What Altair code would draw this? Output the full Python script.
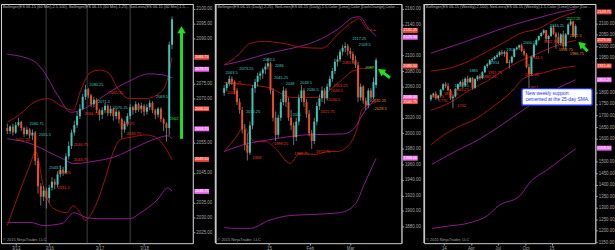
import altair as alt
import pandas as pd

# ---------------- colours
UP = "#38c6bd"
DOWN = "#f04a20"
WICK = "#8f8f8f"
RED = "#a31212"
PURP = "#8e1d8e"
TEAL_T = "#3cc9c0"
RED_T = "#e8391c"
ORANGE_T = "#e08a1c"
LIME = "#1de21d"
AXC = "#a6a6a6"
BOX_RED = "#f2473c"
BOX_PINK = "#ee6ef0"
H = 243

# ================= Panel 1 : ES 06-15 (60 Min)
p1_open = [2060.0, 2059.0, 2060.5, 2058.5, 2061.0, 2062.0, 2060.0, 2058.0, 2059.5, 2057.5, 2058.5, 2049.0, 2040.5, 2037.0, 2039.0, 2036.5, 2040.0, 2042.0, 2041.0, 2044.5, 2046.0, 2045.0, 2050.5, 2054.0, 2058.5, 2061.0, 2064.0, 2066.5, 2070.5, 2073.0, 2071.0, 2068.0, 2069.5, 2066.0, 2064.5, 2066.0, 2067.5, 2065.0, 2066.5, 2064.0, 2065.5, 2063.0, 2059.5, 2061.5, 2064.0, 2067.0, 2066.0, 2068.0, 2066.5, 2067.5, 2065.5, 2067.0, 2068.5, 2066.0, 2064.5, 2066.5, 2063.0, 2061.5, 2060.0, 2088.0]
p1_high = [2061.5, 2061.0, 2061.5, 2062.0, 2063.5, 2062.5, 2060.5, 2060.5, 2060.0, 2059.5, 2059.0, 2050.0, 2041.5, 2040.5, 2040.0, 2041.0, 2043.5, 2043.0, 2045.5, 2047.5, 2047.0, 2051.5, 2055.5, 2059.5, 2062.5, 2065.5, 2068.0, 2071.5, 2074.5, 2073.5, 2071.5, 2070.5, 2070.0, 2066.5, 2067.0, 2068.5, 2068.0, 2067.5, 2067.0, 2066.5, 2066.0, 2063.5, 2062.5, 2065.0, 2068.0, 2067.5, 2069.0, 2068.5, 2068.5, 2068.0, 2068.0, 2069.5, 2069.0, 2066.5, 2067.0, 2067.0, 2063.5, 2062.0, 2089.0, 2097.5]
p1_low = [2058.0, 2058.0, 2057.5, 2058.0, 2060.5, 2059.0, 2057.0, 2057.5, 2056.5, 2056.0, 2047.5, 2038.0, 2034.0, 2035.5, 2033.0, 2035.0, 2039.0, 2039.5, 2040.0, 2043.5, 2044.0, 2044.5, 2049.5, 2053.0, 2057.5, 2060.0, 2063.0, 2066.0, 2069.5, 2070.0, 2067.0, 2067.0, 2065.0, 2062.5, 2063.0, 2065.0, 2064.0, 2064.0, 2062.5, 2063.0, 2061.5, 2056.5, 2058.5, 2060.5, 2063.0, 2064.5, 2065.0, 2065.5, 2065.0, 2064.0, 2064.5, 2066.0, 2065.0, 2063.0, 2063.5, 2062.0, 2059.0, 2055.5, 2057.5, 2086.5]
p1_close = [2059.0, 2060.5, 2058.5, 2061.0, 2062.0, 2060.0, 2058.0, 2059.5, 2057.5, 2058.5, 2049.0, 2040.5, 2037.0, 2039.0, 2036.5, 2040.0, 2042.0, 2041.0, 2044.5, 2046.0, 2045.0, 2050.5, 2054.0, 2058.5, 2061.0, 2064.0, 2066.5, 2070.5, 2073.0, 2071.0, 2068.0, 2069.5, 2066.0, 2064.5, 2066.0, 2067.5, 2065.0, 2066.5, 2064.0, 2065.5, 2063.0, 2059.5, 2061.5, 2064.0, 2067.0, 2066.0, 2068.0, 2066.5, 2067.5, 2065.5, 2067.0, 2068.5, 2066.0, 2064.5, 2066.5, 2063.0, 2061.5, 2060.0, 2088.0, 2096.5]
# axis labels that are not hidden behind the price boxes
p1_yticks = [2025, 2030, 2035, 2045, 2055, 2070, 2075, 2090, 2095, 2100]
p1_xticks = [3, 15, 33, 49]
p1_xlabels = ["3/13", "3/16", "3/17", "3/18"]
p1_sessions = [13.9, 28.6, 44.0]
p1_red_up_x = [0, 4.5, 9.5, 14.5, 19.6, 23.6, 26.3, 29.6, 33, 36.3, 39.6, 43.6, 49.7, 54.7, 57, 59]
p1_red_up_y = [2062.0, 2064.6, 2068.6, 2069.9, 2067.3, 2066.0, 2072.6, 2078.5, 2079.5, 2078.5, 2073.2, 2069.9, 2069.9, 2071.9, 2075.2, 2083.8]
p1_red_lo_x = [0, 4.5, 7.9, 10.2, 12.9, 16.2, 21.2, 23.6, 26.3, 27.9, 30.3, 33, 35.3, 38, 40.3, 44.7, 49.7, 53, 56.4, 59]
p1_red_lo_y = [2027.3, 2038.9, 2047.1, 2052.1, 2040.5, 2033.3, 2031.6, 2033.9, 2031.3, 2029.0, 2031.6, 2037.2, 2043.8, 2052.1, 2056.0, 2057.0, 2057.7, 2057.0, 2053.7, 2049.4]
p1_pur_up_x = [0, 9.5, 12.9, 17.9, 22.9, 26.3, 29.6, 36.3, 44, 50.7, 55.4, 59]
p1_pur_up_y = [2084.8, 2082.5, 2079.2, 2071.2, 2065.3, 2066.0, 2067.6, 2071.9, 2075.9, 2078.2, 2077.9, 2076.9]
p1_pur_mid_x = [0, 6.2, 9.5, 14.5, 19.6, 23.9, 30.6, 38.6, 46.3, 53, 57.4, 59]
p1_pur_mid_y = [2056.4, 2055.4, 2054.4, 2052.1, 2049.8, 2048.1, 2048.8, 2050.4, 2053.7, 2056.4, 2057.4, 2056.4]
p1_pur_lo_x = [0, 8.5, 12.9, 19.6, 23.9, 28.6, 33, 44, 47.3, 54, 57.4, 59]
p1_pur_lo_y = [2028.3, 2028.3, 2027.3, 2028.0, 2031.6, 2029.9, 2029.6, 2029.6, 2031.3, 2036.2, 2039.9, 2038.9]
p1_note_text = ["2060.75", "2055.5", "2052.25", "2043.5", "2046.75", "2043.75", "2038.25", "2031.5", "2080.25", "2071.5", "2070.25", "2064.75", "2065.75", "2063.5", "2069.5", "2058.25", "2049.75", "2062"]
p1_note_x = [10.5, 13.5, 5.5, 17.2, 26.3, 26.3, 20.2, 20.2, 31.9, 34.6, 40.6, 30.3, 39.0, 47.3, 55.4, 43.0, 45.3, 59.7]
p1_note_y = [2061.3, 2057.7, 2056.0, 2046.5, 2054.4, 2049.4, 2044.8, 2039.9, 2074.6, 2068.6, 2066.6, 2064.6, 2071.9, 2066.3, 2070.3, 2061.3, 2058.0, 2063.0]
p1_note_col = ["t", "t", "r", "t", "r", "r", "r", "r", "t", "t", "t", "r", "r", "r", "t", "r", "r", "g"]
p1_box_val = [2083.75, 2079.75, 2066.50, 2059.75, 2049.50, 2038.75]
p1_box_col = ["r", "p", "r", "p", "r", "p"]
p1_arrow = [62.4, 2056.4, 62.4, 2093.0]      # tail x, tail y, head x, head y
p1_arrow_angle = 0

# ================= Panel 2 : ES 06-15 (Daily)
p2_open = [2052, 2058, 2064, 2070, 2066, 2055, 2040, 2030, 2005, 1985, 1975, 2010, 2058, 2066, 2074, 2077, 2082, 2086, 2090, 2055, 2020, 1998, 2020, 2040, 2055, 2040, 2020, 2010, 1995, 2015, 2045, 2055, 2040, 2025, 2000, 1990, 2015, 2035, 2045, 2055, 2045, 2060, 2070, 2080, 2092, 2095, 2105, 2110, 2112, 2106, 2102, 2094, 2088, 2046, 2060, 2042, 2036, 2055, 2046, 2062]
p2_high = [2062, 2066, 2074, 2073, 2068, 2058, 2045, 2034, 2012, 2000, 2015, 2062, 2070, 2078, 2080, 2084, 2090, 2096, 2092, 2058, 2028, 2024, 2044, 2060, 2058, 2046, 2030, 2014, 2020, 2050, 2062, 2058, 2044, 2030, 2004, 2020, 2040, 2050, 2060, 2058, 2064, 2074, 2084, 2096, 2100, 2108, 2114, 2117, 2115, 2110, 2105, 2100, 2092, 2064, 2062, 2046, 2058, 2058, 2072, 2097]
p2_low = [2048, 2054, 2061, 2062, 2050, 2036, 2025, 2000, 1978, 1965, 1972, 2005, 2052, 2060, 2068, 2070, 2076, 2082, 2050, 2015, 1990, 1994, 2016, 2036, 2034, 2016, 2004, 1985, 1990, 2010, 2040, 2034, 2020, 1996, 1980, 1986, 2010, 2030, 2040, 2038, 2042, 2056, 2066, 2076, 2086, 2092, 2100, 2104, 2100, 2096, 2090, 2084, 2040, 2042, 2038, 2030, 2032, 2040, 2044, 2058]
p2_close = [2058, 2064, 2070, 2066, 2055, 2040, 2030, 2005, 1985, 1975, 2010, 2058, 2066, 2074, 2077, 2082, 2086, 2090, 2055, 2020, 1998, 2020, 2040, 2055, 2040, 2020, 2010, 1995, 2015, 2045, 2055, 2040, 2025, 2000, 1990, 2015, 2035, 2045, 2055, 2045, 2060, 2070, 2080, 2092, 2095, 2105, 2110, 2112, 2106, 2102, 2094, 2088, 2046, 2060, 2042, 2036, 2055, 2046, 2066, 2094]
p2_yticks = [1880, 1900, 1920, 1940, 1960, 1980, 2000, 2020, 2060, 2080, 2100, 2140, 2160]
p2_xticks = [17.4, 33.3, 48.9]
p2_xlabels = ["15", "Feb", "Mar"]
p2_pur_up_x = [0, 8.3, 17.4, 26.4, 35.5, 44.5, 50, 52.5, 56.1, 59]
p2_pur_up_y = [2087.9, 2094.2, 2103.0, 2109.4, 2118.2, 2134.7, 2148.6, 2149.9, 2134.7, 2124.6]
p2_red_up_x = [0, 5.4, 10.1, 15.6, 22.8, 30, 38, 44.5, 50, 52.5, 55.4, 59]
p2_red_up_y = [2087.9, 2100.5, 2115.7, 2118.2, 2115.7, 2110.6, 2109.4, 2128.4, 2143.5, 2147.4, 2134.7, 2132.2]
p2_red_mid_x = [0, 8.3, 17.4, 26.4, 35.5, 44.5, 50, 55.4, 59]
p2_red_mid_y = [2065.1, 2062.5, 2058.7, 2046.1, 2046.1, 2065.1, 2080.2, 2084.0, 2085.3]
p2_red_lo_x = [0, 4.7, 7.6, 11.9, 16.3, 19.9, 25.7, 29.3, 35.5, 40.2, 43.8, 48.9, 51.8, 53.6, 59]
p2_red_lo_y = [1976.5, 1995.4, 2008.1, 1989.1, 1989.1, 1980.3, 1961.3, 1973.9, 1972.7, 1976.5, 1976.5, 1986.6, 2008.1, 2030.9, 2039.7]
p2_pur_mid_x = [0, 7.6, 19.9, 31.9, 46.3, 51, 53.6, 59]
p2_pur_mid_y = [1976.5, 1985.3, 1992.9, 1998.0, 1999.2, 2008.1, 2023.3, 2044.8]
p2_pur_lo_x = [0, 2.9, 10.1, 17.4, 25.7, 34.4, 45.2, 51, 54.6, 59]
p2_pur_lo_y = [1879.0, 1877.7, 1877.7, 1887.9, 1894.2, 1895.5, 1898.0, 1909.4, 1935.9, 1967.6]
p2_note_text = ["2063.5", "2073.25", "2055.25", "2043", "2083.5", "2086", "2045.25", "2038", "2043.5", "2030.5", "2010.25", "2005", "2117.25", "2109.5", "2083.5", "2053.25", "2046.5", "2030.5", "2021.75", "2035.25", "2028.5", "2087", "1968", "1998.25", "1982.75", "1972.75"]
p2_note_x = [2.9, 8.6, 4.0, 2.9, 17.4, 21.4, 22.1, 25.6, 31.8, 34.4, 11.2, 28.2, 52.5, 54.6, 48.1, 45.2, 43.8, 42.7, 40.2, 60.1, 60.8, 56.5, 12.7, 22.1, 30.0, 38.4]
p2_note_y = [2077.7, 2082.3, 2065.1, 2052.4, 2093.6, 2086.6, 2070.9, 2062.8, 2065.1, 2056.2, 2027.1, 2023.3, 2121.5, 2113.2, 2090.4, 2061.3, 2054.9, 2042.3, 2027.1, 2041.0, 2030.9, 2084.1, 1967.6, 1986.6, 1972.7, 1976.5]
p2_note_col = ["t", "t", "r", "r", "t", "t", "t", "t", "t", "t", "t", "t", "t", "t", "r", "r", "r", "r", "r", "o", "o", "g", "r", "r", "r", "r"]
p2_box_val = [2132.25, 2123.50, 2086.50, 2046.00, 2040.75, 1968.00]
p2_box_col = ["r", "p", "r", "p", "r", "p"]
p2_arrow = [64.4, 2071.4, 60.9, 2079.9]
p2_arrow_angle = 305

# ================= Panel 3 : ES 06-15 (Weekly)
p3_open = [1770, 1788, 1795, 1775, 1786, 1812, 1836, 1828, 1810, 1775, 1782, 1815, 1835, 1845, 1830, 1860, 1845, 1862, 1820, 1858, 1870, 1862, 1888, 1914, 1922, 1940, 1945, 1955, 1962, 1975, 1968, 1975, 1928, 1930, 1955, 1988, 1995, 2005, 1980, 1965, 1910, 1880, 1955, 2008, 2028, 2045, 2058, 2070, 2032, 2045, 2082, 2055, 2040, 2015, 2052, 2000, 2052, 2095, 2108, 2048]
p3_high = [1792, 1800, 1805, 1790, 1815, 1840, 1845, 1842, 1815, 1790, 1820, 1840, 1852, 1858, 1866, 1872, 1868, 1868, 1862, 1875, 1880, 1892, 1918, 1928, 1945, 1952, 1960, 1970, 1980, 1985, 1982, 1980, 1942, 1960, 1992, 2000, 2008, 2012, 1990, 1972, 1925, 1960, 2012, 2035, 2048, 2062, 2075, 2072, 2050, 2090, 2092, 2062, 2060, 2058, 2068, 2058, 2100, 2118, 2112, 2096]
p3_low = [1762, 1780, 1768, 1765, 1780, 1808, 1820, 1805, 1768, 1732, 1778, 1810, 1828, 1818, 1826, 1838, 1840, 1812, 1815, 1850, 1855, 1858, 1884, 1905, 1918, 1932, 1940, 1948, 1955, 1960, 1955, 1925, 1904, 1926, 1952, 1982, 1985, 1975, 1958, 1905, 1818, 1875, 1950, 2002, 2022, 2040, 2050, 2020, 1970, 2040, 2050, 1990, 2010, 2002, 1990, 1985, 2048, 2088, 2040, 2035]
p3_close = [1788, 1795, 1775, 1786, 1812, 1836, 1828, 1810, 1775, 1782, 1815, 1835, 1845, 1830, 1860, 1845, 1862, 1820, 1858, 1870, 1862, 1888, 1914, 1922, 1940, 1945, 1955, 1962, 1975, 1968, 1975, 1928, 1930, 1955, 1988, 1995, 2005, 1980, 1965, 1910, 1880, 1955, 2008, 2028, 2045, 2058, 2070, 2032, 2045, 2082, 2055, 2040, 2015, 2052, 2000, 2052, 2095, 2108, 2048, 2088]
p3_yticks = [1150, 1200, 1250, 1300, 1350, 1400, 1450, 1500, 1600, 1650, 1700, 1750, 1800, 1950, 2000, 2050, 2100]
p3_xticks = [5.3, 16.3, 27.2, 38.6, 49.2]
p3_xlabels = ["14", "Apr", "Jul", "Oct", "15"]
p3_red_up_x = [0, 7.9, 15.5, 23.1, 30.6, 36.3, 43.9, 51.4, 59]
p3_red_up_y = [1893.6, 1906.5, 1936.3, 1979.0, 2021.7, 2055.9, 2077.3, 2120.0, 2149.8]
p3_red_mid_x = [0, 7.9, 15.5, 23.1, 30.6, 36.3, 43.9, 51.4, 59]
p3_red_mid_y = [1722.8, 1757.0, 1808.2, 1850.9, 1902.2, 1936.3, 1970.5, 2004.7, 2026.0]
p3_red_lo_x = [0, 4.2, 11.0, 17.4, 25.0, 32.5, 38.2, 45.8, 51.4, 59]
p3_red_lo_y = [1573.4, 1607.5, 1650.3, 1680.1, 1735.7, 1799.7, 1863.8, 1885.1, 1902.2, 1915.0]
p3_pur_up_x = [0, 9.8, 21.2, 32.5, 43.9, 51.4, 59]
p3_pur_up_y = [1970.5, 2004.7, 2047.4, 2090.1, 2124.2, 2145.6, 2162.7]
p3_pur_mid_x = [0.4, 9.8, 19.3, 27.6, 36.3, 43.9, 51.4, 59]
p3_pur_mid_y = [1488.0, 1543.5, 1594.7, 1650.3, 1714.3, 1769.8, 1816.8, 1855.2]
p3_pur_lo_x = [0.4, 6.1, 16.3, 23.1, 27.6, 36.3, 40.1, 47.7, 59]
p3_pur_lo_y = [1210.4, 1219.0, 1236.1, 1266.0, 1308.7, 1351.4, 1406.9, 1466.6, 1556.3]
p3_note_text = ["2117.25", "2062.5", "1992.75", "1986.75", "2000.5", "2044.25", "1944.5", "1992.75", "1955", "1911.75", "1882.25", "1914", "1885", "1863.25", "1840.25", "1835.25", "1803.75", "1770", "1732", "1852.25", "1811"]
p3_note_x = [58.2, 59.0, 55.0, 59.5, 40.1, 51.4, 43.1, 48.8, 32.5, 26.1, 23.8, 26.1, 17.4, 12.5, 12.5, 8.2, 2.3, 4.9, 12.5, 41.2, 42.0]
p3_note_y = [2120.0, 2043.1, 1983.3, 1966.5, 2013.2, 2090.1, 1949.2, 2020.2, 1983.3, 1885.1, 1866.0, 1927.8, 1893.6, 1810.5, 1829.6, 1793.2, 1780.9, 1762.5, 1740.0, 1876.6, 1821.0]
p3_note_col = ["g", "o", "o", "o", "t", "t", "r", "r", "t", "r", "r", "t", "t", "r", "t", "r", "r", "r", "r", "r", "r"]
p3_box_val = [2149.75, 2026.00, 1915.40, 1855.25, 1558.50]
p3_box_col = ["r", "r", "r", "p", "p"]
p3_arrow = [63.9, 1979.0, 61.2, 2009.7]
p3_arrow_angle = 315
p3_callout_lines = ["New weekly support", "cemented at the 25-day SMA."]
p3_callout_box = [37.1, 65.8, 1816.8, 1744.2]
p3_callout_text_x = 38.6
p3_callout_text_y = [1795.4, 1767.0]

NOTE_COL = {"t": TEAL_T, "r": RED_T, "o": ORANGE_T, "g": LIME}
BOX_COL = {"r": BOX_RED, "p": BOX_PINK}


def build(W, yext, xdom, ydom, o, h, l, c, yticks, xticks, xlabels, bands,
          ntext, nx, ny, ncol, bval, bcol, header, arrow, angle,
          seps=None, callout=None, left_edge=False):
    xs = alt.Scale(domain=xdom, nice=False, zero=False)
    ys = alt.Scale(domain=ydom, nice=False, zero=False)
    expr = "".join(f"datum.value == {v} ? '{t}' : " for v, t in zip(xticks, xlabels)) + "''"
    xax = alt.Axis(values=xticks, labelExpr=expr, labelFontSize=4.5, labelColor=AXC,
                   domainColor=AXC, tickColor=AXC, tickSize=2, labelPadding=1,
                   grid=False, labelOverlap=False, labelFlush=False,
                   minExtent=7, maxExtent=7)
    yax = alt.Axis(orient="right", values=yticks, format=".2f", labelFontSize=4.5,
                   labelColor=AXC, domainColor=AXC, tickColor=AXC, tickSize=2,
                   labelPadding=1, grid=False, labelOverlap=False,
                   minExtent=yext, maxExtent=yext)

    def X(f):
        return alt.X(f"{f}:Q", scale=xs, axis=xax, title=None)

    def Y(f):
        return alt.Y(f"{f}:Q", scale=ys, axis=yax, title=None)

    layers = []
    if seps:
        sdf = pd.DataFrame({"s": seps})
        layers.append(alt.Chart(sdf).mark_rule(color="#505050", strokeWidth=0.8).encode(
            x=X("s"), y=alt.value(0), y2=alt.value(H)))

    rows = []
    for name, col, bx, by in bands:
        for a, b in zip(bx, by):
            rows.append({"band": name, "col": col, "bx": a, "by": b})
    bdf = pd.DataFrame(rows)
    layers.append(alt.Chart(bdf).mark_line(strokeWidth=1, interpolate="monotone").encode(
        x=X("bx"), y=Y("by"), detail="band:N", color=alt.Color("col:N", scale=None)))

    cdf = pd.DataFrame({"idx": list(range(len(o))), "open": o, "high": h, "low": l, "close": c})
    layers.append(alt.Chart(cdf).mark_rule(color=WICK, strokeWidth=0.8).encode(
        x=X("idx"), y=Y("low"), y2="high:Q"))
    layers.append(alt.Chart(cdf).mark_bar(size=2).encode(
        x=X("idx"), y=Y("open"), y2="close:Q",
        color=alt.condition("datum.close >= datum.open", alt.value(UP), alt.value(DOWN))))

    ndf = pd.DataFrame({"nt": ntext, "nx": nx, "ny": ny, "col": [NOTE_COL[k] for k in ncol]})
    layers.append(alt.Chart(ndf).mark_text(fontSize=4, align="center", baseline="middle").encode(
        x=X("nx"), y=Y("ny"), text="nt:N", color=alt.Color("col:N", scale=None)))

    adf = pd.DataFrame({"ax": [arrow[0]], "ay": [arrow[1]], "hx": [arrow[2]], "hy": [arrow[3]]})
    layers.append(alt.Chart(adf).mark_rule(color=LIME, strokeWidth=3).encode(
        x=X("ax"), y=Y("ay"), x2="hx:Q", y2="hy:Q"))
    layers.append(alt.Chart(adf).mark_point(shape="triangle-up", filled=True, size=70,
                                            angle=angle, color=LIME, opacity=1).encode(
        x=X("hx"), y=Y("hy")))

    if callout:
        lines, box, tx, ty = callout
        rdf = pd.DataFrame({"x1": [box[0]], "x2": [box[1]], "y1": [box[2]], "y2": [box[3]]})
        layers.append(alt.Chart(rdf).mark_rect(fill="white", stroke="#1a2cff", strokeWidth=1.5,
                                               cornerRadius=2).encode(
            x=X("x1"), x2="x2:Q", y=Y("y1"), y2="y2:Q"))
        tdf = pd.DataFrame({"t": lines, "tx": [tx] * len(lines), "ty": ty})
        layers.append(alt.Chart(tdf).mark_text(fontSize=4.9, align="left", baseline="middle",
                                               color="#1a2cff").encode(
            x=X("tx"), y=Y("ty"), text="t:N"))

    bdf2 = pd.DataFrame({"bv": bval, "bl": [f"{v:.2f}" for v in bval],
                         "col": [BOX_COL[k] for k in bcol]})
    layers.append(alt.Chart(bdf2).mark_tick(orient="horizontal", size=15, thickness=5, opacity=1).encode(
        x=alt.value(W + 9), y=Y("bv"), color=alt.Color("col:N", scale=None)))
    layers.append(alt.Chart(bdf2).mark_text(fontSize=3.8, color="white", align="center",
                                            baseline="middle").encode(
        x=alt.value(W + 9), y=Y("bv"), text="bl:N"))

    hdf = pd.DataFrame({"t": [header], "c": ["\u00a9 2015 NinjaTrader, LLC"]})
    layers.append(alt.Chart(hdf).mark_text(fontSize=4, align="left", baseline="top",
                                           color="#b4b4b4", limit=W - 4, ellipsis="").encode(
        x=alt.value(2), y=alt.value(1), text="t:N"))
    layers.append(alt.Chart(hdf).mark_text(fontSize=4, align="left", baseline="bottom",
                                           color="#a0a0a0").encode(
        x=alt.value(2), y=alt.value(H - 1), text="c:N"))
    if left_edge:
        layers.append(alt.Chart(hdf).mark_rule(color="#c8c8c8", strokeWidth=1.5).encode(
            x=alt.value(0), y=alt.value(0), y2=alt.value(H)))

    return alt.layer(*layers).properties(width=W, height=H)


p1 = build(195, 17, [-0.5, 64.7], [2021.4, 2101.65], p1_open, p1_high, p1_low, p1_close,
           p1_yticks, p1_xticks, p1_xlabels,
           [("ru", RED, p1_red_up_x, p1_red_up_y), ("rl", RED, p1_red_lo_x, p1_red_lo_y),
            ("pu", PURP, p1_pur_up_x, p1_pur_up_y), ("pm", PURP, p1_pur_mid_x, p1_pur_mid_y),
            ("pl", PURP, p1_pur_lo_x, p1_pur_lo_y)],
           p1_note_text, p1_note_x, p1_note_y, p1_note_col, p1_box_val, p1_box_col,
           "Bollinger(ES 06-15 (60 Min),2.5,100), Bollinger(ES 06-15 (60 Min),1,25), NetLines(ES 06-15 (60 Min),1.5,Color [Lime],Color [DarkOrange],Color [Teal],Color [Red])",
           p1_arrow, p1_arrow_angle, seps=p1_sessions)

p2 = build(189, 19, [-1.45, 66.95], [1858.7, 2166.3], p2_open, p2_high, p2_low, p2_close,
           p2_yticks, p2_xticks, p2_xlabels,
           [("pu", PURP, p2_pur_up_x, p2_pur_up_y), ("ru", RED, p2_red_up_x, p2_red_up_y),
            ("rm", RED, p2_red_mid_x, p2_red_mid_y), ("rl", RED, p2_red_lo_x, p2_red_lo_y),
            ("pm", PURP, p2_pur_mid_x, p2_pur_mid_y), ("pl", PURP, p2_pur_lo_x, p2_pur_lo_y)],
           p2_note_text, p2_note_x, p2_note_y, p2_note_col, p2_box_val, p2_box_col,
           "Bollinger(ES 06-15 (Daily),2,25), NetLines(ES 06-15 (Daily),1.5,Color [Lime],Color [DarkOrange],Color [Teal],Color [Red])",
           p2_arrow, p2_arrow_angle, left_edge=True)

p3 = build(174, 19, [-0.76, 65.05], [1146.5, 2184.0], p3_open, p3_high, p3_low, p3_close,
           p3_yticks, p3_xticks, p3_xlabels,
           [("ru", RED, p3_red_up_x, p3_red_up_y), ("rm", RED, p3_red_mid_x, p3_red_mid_y),
            ("rl", RED, p3_red_lo_x, p3_red_lo_y), ("pu", PURP, p3_pur_up_x, p3_pur_up_y),
            ("pm", PURP, p3_pur_mid_x, p3_pur_mid_y), ("pl", PURP, p3_pur_lo_x, p3_pur_lo_y)],
           p3_note_text, p3_note_x, p3_note_y, p3_note_col, p3_box_val, p3_box_col,
           "Bollinger(ES 06-15 (Weekly),2,100), NetLines(ES 06-15 (Weekly),1.5,Color [Lime],Color [DarkOrange],Color [Teal],Color [Red])",
           p3_arrow, p3_arrow_angle,
           callout=(p3_callout_lines, p3_callout_box, p3_callout_text_x, p3_callout_text_y),
           left_edge=True)

chart = alt.hconcat(p1, p2, p3, spacing=1).properties(
    background="black", padding=0
).configure_view(stroke=None).configure(font="Liberation Sans")

chart.save("out.html", embed_options={"renderer": "svg", "actions": False})
